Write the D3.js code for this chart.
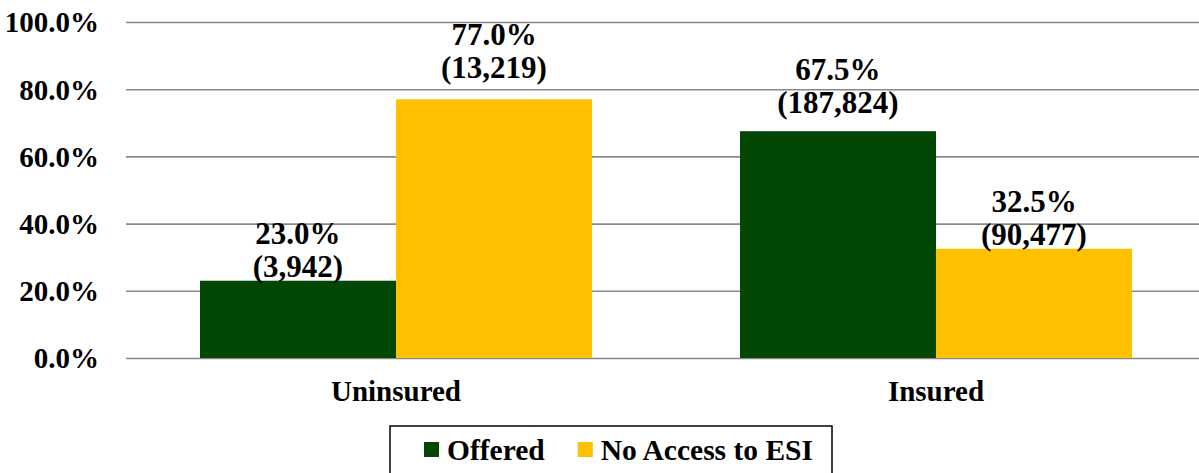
<!DOCTYPE html>
<html>
<head>
<meta charset="utf-8">
<script src="https://cdn.jsdelivr.net/npm/d3@7"></script>
<style>
	body { margin: 0; background: #fff; }
</style>
</head>
<body>
<svg id="chart" width="1199" height="473"></svg>
<script>
// 数据
const categories = ["Uninsured", "Insured"];
const seriesNames = ["Offered", "No Access to ESI"];
const seriesColors = ["#024703", "#ffc000"];
const offeredPct = [23.0, 67.5];
const offeredCount = [3942, 187824];
const noAccessPct = [77.0, 32.5];
const noAccessCount = [13219, 90477];
const yTicks = [0, 20, 40, 60, 80, 100];
// 标签离柱顶的距离 (手工摆放)
const labelLift = [[4, 18], [21, 4]];

const FONT = "Liberation Serif, DejaVu Serif, Times New Roman, serif";

const svg = d3.select("#chart")
	.attr("font-family", FONT)
	.attr("font-weight", "bold");
const plotLeft = 126, plotRight = 1206, plotTop = 22, plotBottom = 358;

const x = d3.scaleBand()
	.domain(categories)
	.range([plotLeft, plotRight])
	.paddingInner(0.274)
	.paddingOuter(0.137);

const xs = d3.scaleBand()
	.domain(seriesNames)
	.range([0, x.bandwidth()]);

const y = d3.scaleLinear().domain([0, 100]).range([plotBottom, plotTop]);

// 网格线 + y 轴
const yAxis = svg.append("g")
	.attr("transform", `translate(${plotLeft},0)`)
	.call(d3.axisLeft(y)
		.tickValues(yTicks)
		.tickSize(-(plotRight - plotLeft))
		.tickPadding(27)
		.tickFormat(d => d.toFixed(1) + "%"))
	.attr("font-family", FONT)
	.attr("font-size", 29);
yAxis.select(".domain").remove();
yAxis.selectAll(".tick line").attr("stroke", "#898989").attr("stroke-width", 1.6);
yAxis.selectAll(".tick text")
	.attr("dy", "0.34em")
	.attr("fill", "#000");

const series = [
	{ name: seriesNames[0], pct: offeredPct, count: offeredCount },
	{ name: seriesNames[1], pct: noAccessPct, count: noAccessCount },
];
const fmt = d3.format(",");

series.forEach((s, si) => {
	const g = svg.append("g");
	categories.forEach((c, ci) => {
		const bx = x(c) + xs(s.name);
		const by = y(s.pct[ci]);
		g.append("rect")
			.attr("x", bx)
			.attr("y", by)
			.attr("width", xs.bandwidth())
			.attr("height", plotBottom - by)
			.attr("fill", seriesColors[si]);

		const cx = bx + xs.bandwidth() / 2;
		const base = by - labelLift[si][ci];
		g.append("text")
			.attr("x", cx)
			.attr("y", base - 33)
			.attr("text-anchor", "middle")
			.attr("font-size", 31)
			.text(s.pct[ci].toFixed(1) + "%");
		g.append("text")
			.attr("x", cx)
			.attr("y", base)
			.attr("text-anchor", "middle")
			.attr("font-size", 31)
			.text("(" + fmt(s.count[ci]) + ")");
	});
});

// x 轴标签
svg.append("g")
	.selectAll("text")
	.data(categories)
	.join("text")
	.attr("x", d => x(d) + x.bandwidth() / 2)
	.attr("y", 401)
	.attr("text-anchor", "middle")
	.attr("font-size", 29)
	.text(d => d);

// 图例
const legend = svg.append("g");
legend.append("rect")
	.attr("x", 390)
	.attr("y", 426)
	.attr("width", 442)
	.attr("height", 70)
	.attr("fill", "none")
	.attr("stroke", "#000")
	.attr("stroke-width", 1.5);

let lx = 424;
seriesNames.forEach((n, i) => {
	legend.append("rect")
		.attr("x", lx)
		.attr("y", 442)
		.attr("width", 15)
		.attr("height", 15)
		.attr("fill", seriesColors[i]);
	const t = legend.append("text")
		.attr("x", lx + 23)
		.attr("y", 460)
		.attr("font-size", 29.5)
		.text(n);
	lx += 23 + t.node().getComputedTextLength() + 33;
});
</script>
</body>
</html>
